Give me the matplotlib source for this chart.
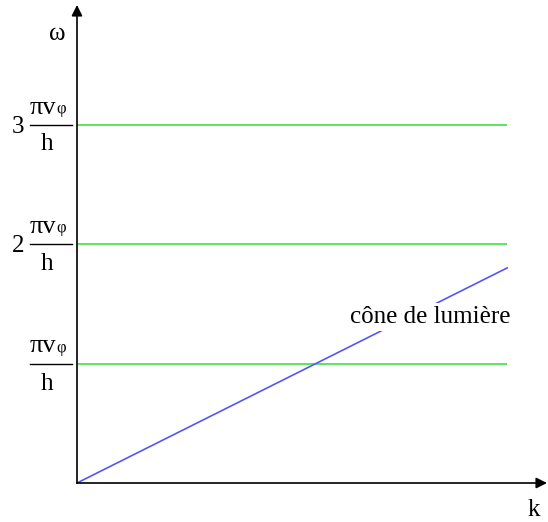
import matplotlib
matplotlib.use("Agg")
import matplotlib.pyplot as plt

# ── data ────────────────────────────────────────────────────
levels       = [1, 2, 3]            # cut-off frequencies n*pi*v/h
level_labels = ["", "2", "3"]
k_max        = 3.6
cone_k       = [0.0, 3.6]           # light cone omega = v k
cone_w       = [0.0, 1.8]

# ── layout helpers (pixel -> data) ─────────────────────────
PX = 119.5          # pixels per unit
X0, Y0 = 77, 483    # origin in pixels

def px(x, y):
    return (x - X0) / PX, (Y0 - y) / PX

plt.rcParams["font.family"] = ["Liberation Serif", "DejaVu Serif"]

fig = plt.figure(figsize=(5.48, 5.22), dpi=100)
ax = fig.add_axes([0, 0, 1, 1])
ax.set_xlim(-X0 / PX, (548 - X0) / PX)
ax.set_ylim(-(522 - Y0) / PX, Y0 / PX)
ax.axis("off")

# ── axes with arrows ───────────────────────────────────────
arrow = dict(arrowstyle="-|>", color="black", lw=1.2,
             mutation_scale=16, shrinkA=0, shrinkB=0)
ax.annotate("", xy=px(X0, 5), xytext=(0, 0), arrowprops=arrow)
ax.annotate("", xy=px(547, Y0), xytext=(0, 0), arrowprops=arrow)

ax.text(*px(57, 40), "ω", fontsize=18, ha="center", va="baseline")
ax.text(*px(534, 516), "k", fontsize=18, ha="center", va="baseline")

# ── cut-off lines ──────────────────────────────────────────
ax.hlines(levels, 0, k_max, color="#3fe03f", lw=1.2)

# ── light cone ─────────────────────────────────────────────
ax.plot(cone_k, cone_w, color="#5555ff", lw=1.2)
ax.text(*px(430, 323), "cône de lumière", fontsize=18, ha="center",
        va="baseline",
        bbox=dict(boxstyle="square,pad=0.12", fc="white", ec="none"))

# ── level labels: n * pi v_phi / h ─────────────────────────
for lvl, lab in zip(levels, level_labels):
    x_l, _ = px(30, 0)
    x_r, _ = px(72, 0)
    dy = 1.0 / PX
    ax.plot([x_l, x_r], [lvl, lvl], color="black", lw=1.0)
    ax.text(x_l, lvl + 11 * dy, "πv", fontsize=19, ha="left", va="baseline")
    ax.text(px(56.5, 0)[0], lvl + 12 * dy, "φ", fontsize=12, ha="left",
            va="baseline")
    ax.text(px(47, 0)[0], lvl - 26 * dy, "h", fontsize=18, ha="center",
            va="baseline")
    if lab:
        ax.text(px(18, 0)[0], lvl - 8 * dy, lab, fontsize=18, ha="center",
                va="baseline")

plt.savefig("out.png", dpi=100)
